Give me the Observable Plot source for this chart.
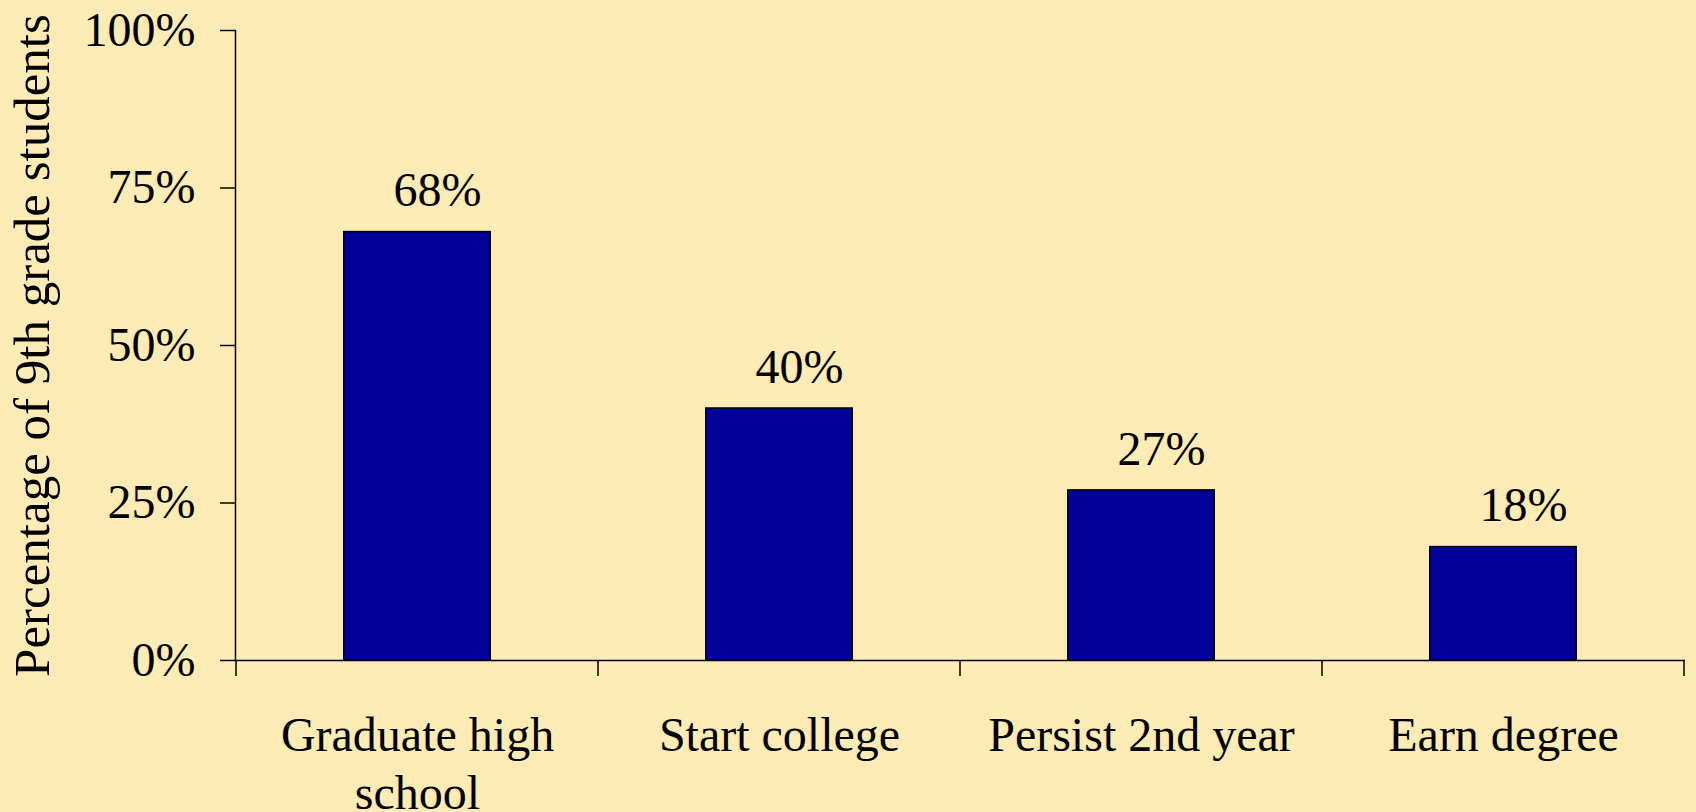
<!DOCTYPE html>
<html>
<head>
<meta charset="utf-8">
<script src="https://cdn.jsdelivr.net/npm/d3@7"></script>
<script src="https://cdn.jsdelivr.net/npm/@observablehq/plot@0.6"></script>
<style>
  html, body { margin: 0; padding: 0; background: #FFEBB5; }
  #chart svg { display: block; }
</style>
</head>
<body>
<div id="chart"></div>
<script>
const categories = ["Graduate high school", "Start college", "Persist 2nd year", "Earn degree"];
const categoryLabels = ["Graduate high\nschool", "Start college", "Persist 2nd year", "Earn degree"];
const values = [0.68, 0.40, 0.27, 0.18];
const valueLabels = ["68%", "40%", "27%", "18%"];
const yTicks = [0, 0.25, 0.5, 0.75, 1];
const yTitle = "Percentage of 9th grade students";

const W = 1696, H = 812;
const mL = 235, mR = 11, mT = 30, mB = 152;
const bw = (W - mL - mR) / categories.length;
const barW = 147;
const inset = (bw - barW) / 2;

const data = categories.map((c, i) => ({cat: c, value: values[i], label: valueLabels[i]}));
const font = "'Liberation Serif', 'Times New Roman', serif";

const chart = Plot.plot({
  width: W,
  height: H,
  marginLeft: mL,
  marginRight: mR,
  marginTop: mT,
  marginBottom: mB,
  style: {background: "#FFEBB5", fontFamily: font, color: "#000", overflow: "visible"},
  x: {domain: categories, padding: 0, axis: null},
  y: {domain: [0, 1], axis: null},
  marks: [
    Plot.barY(data, {x: "cat", y: "value", fill: "#000099", stroke: "#000", strokeWidth: 1.5, insetLeft: inset, insetRight: inset}),
    Plot.axisY({ticks: yTicks, tickSize: 15, tickPadding: 25, tickFormat: d3.format(".0%"), fontSize: 48, label: null, stroke: "#000", strokeWidth: 1.5}),
    Plot.axisX({tickSize: 0, tickPadding: 50, fontSize: 48, label: null, tickFormat: (d) => categoryLabels[categories.indexOf(d)], lineHeight: 1.2}),
    Plot.ruleY([0], {stroke: "#000", strokeWidth: 1.5}),
    Plot.frame({anchor: "left", stroke: "#000", strokeWidth: 1.5}),
    Plot.text(data, {x: "cat", y: "value", text: "label", dx: 20, dy: -41, fontSize: 48, fill: "#000"}),
    Plot.text([yTitle], {frameAnchor: "left", textAnchor: "middle", rotate: -90, dx: -203, fontSize: 51, fill: "#000"})
  ]
});

// category boundary ticks below the x axis, from the library's band scale
const xs = chart.scale("x");
const ys = chart.scale("y");
const y0 = ys.apply(0);
const bounds = categories.map(c => xs.apply(c)).concat([xs.apply(categories[categories.length - 1]) + xs.bandwidth]);
d3.select(chart).append("g")
  .attr("stroke", "#000").attr("stroke-width", 1.5)
  .selectAll("line").data(bounds).join("line")
  .attr("x1", d => d).attr("x2", d => d)
  .attr("y1", y0).attr("y2", y0 + 16);

document.getElementById("chart").appendChild(chart);
</script>
</body>
</html>
